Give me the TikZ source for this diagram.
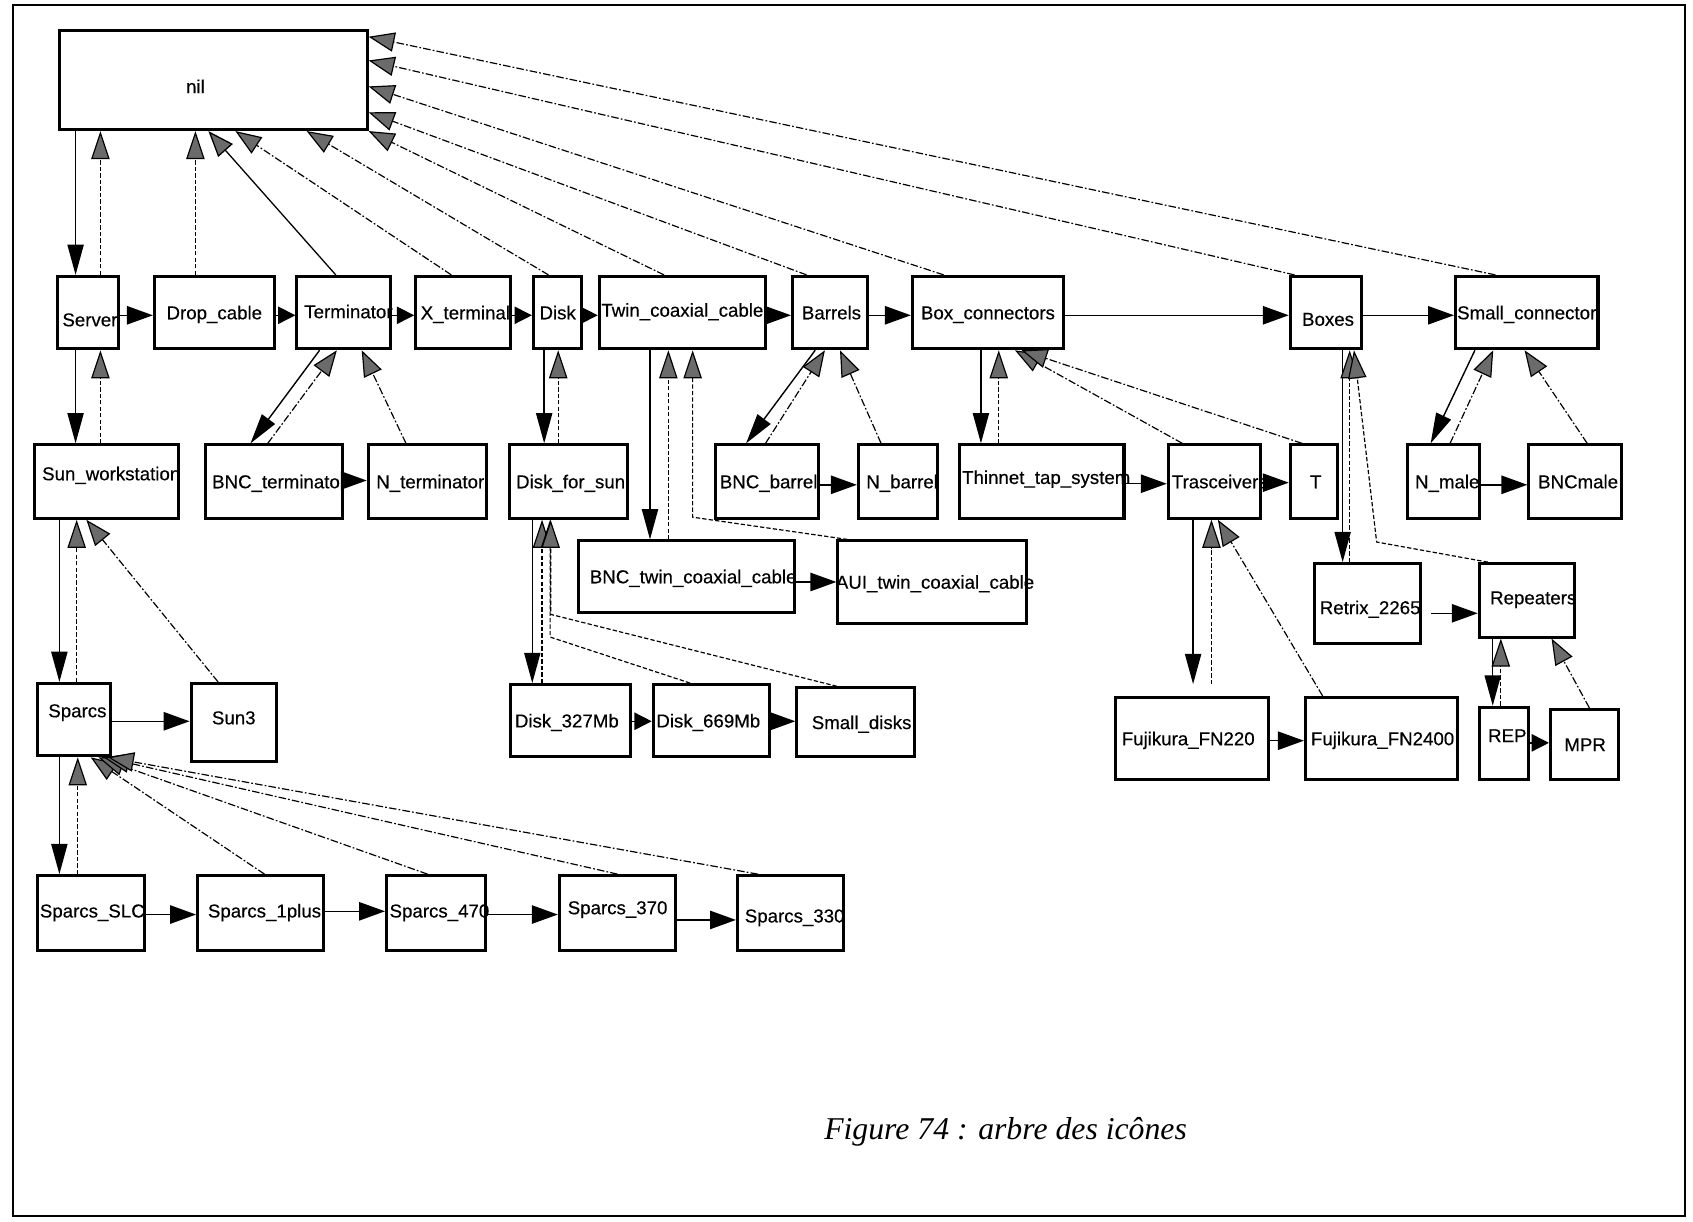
\documentclass[tikz,border=0pt]{standalone}
\usepackage{fontspec}
\setmainfont{Liberation Sans}[FakeBold=0.4]
\newfontfamily\capfont{Liberation Serif}
\usetikzlibrary{arrows.meta}
\newcommand\lbl[3]{\makebox[0pt]{\kern#1\raisebox{#2}{#3}\kern-#1}}
\begin{document}
\begin{tikzpicture}[x=0.5pt, y=-0.5pt,
  box/.style={draw, line width=1.4pt, inner sep=0pt, text height=6.2pt, text depth=0pt,
    font=\fontsize{8.65}{10}\selectfont},
  sz/.style 2 args={minimum width=#1*0.5pt, minimum height=#2*0.5pt},
  kid/.style={line width=0.65pt, -{Triangle[length=14pt,width=7.5pt]}},
  sib/.style={line width=0.65pt, -{Triangle[length=12pt,width=8.5pt]}},
  sibsm/.style={line width=0.65pt, -{Triangle[length=8pt,width=8pt]}},
  up/.style={line width=0.55pt, dash pattern=on 2pt off 1pt,
    -{Triangle[length=13pt,width=8.5pt,fill=black!58]}},
  updd/.style={line width=0.55pt, dash pattern=on 3.5pt off 1pt on 0.8pt off 1pt,
    -{Triangle[length=12pt,width=9pt,fill=black!58]}},
  upsolid/.style={line width=0.6pt, -{Triangle[length=12pt,width=9pt,fill=black!58]}},
]
\useasboundingbox (0,0) rectangle (1568,1131);
\draw[line width=0.9pt] (12,5) rectangle (1561,1126);

% ---- nodes ----
\node[box, sz={285}{92}] (nil) at (197.5,74) {\lbl{-8.25pt}{-3pt}{nil}};
% row 1
\node[box, sz={57}{67}]  (server)     at (81.5,289.5)  {\lbl{0.9pt}{-3.25pt}{Server}};
\node[box, sz={111}{67}] (dropcable)  at (198.5,289.5) {\lbl{0pt}{0pt}{Drop\_cable}};
\node[box, sz={87}{67}]  (terminator) at (318.5,289.5) {\lbl{2.1pt}{0.5pt}{Terminator}};
\node[box, sz={88}{67}]  (xterminal)  at (429,289.5)   {\lbl{1pt}{0pt}{X\_terminal}};
\node[box, sz={45}{67}]  (disk)       at (516.5,289.5) {\lbl{0pt}{0pt}{Disk}};
\node[box, sz={154}{67}] (twin)       at (632,289.5)   {\lbl{0pt}{1.2pt}{Twin\_coaxial\_cable}};
\node[box, sz={69}{67}]  (barrels)    at (768.5,289.5) {\lbl{0.8pt}{0pt}{Barrels}};
\node[box, sz={140}{67}] (boxconn)    at (915,289.5)   {\lbl{0pt}{0pt}{Box\_connectors}};
\node[box, sz={66}{67}]  (boxes)      at (1228,289.5)  {\lbl{1pt}{-3pt}{Boxes}};
\node[box, sz={132}{67}] (smallconn)  at (1414,289.5)  {\lbl{0pt}{0pt}{Small\_connector}};
% row 2
\node[box, sz={133}{68}] (sunws)      at (98.5,446)    {\lbl{2.25pt}{3.7pt}{Sun\_workstation}};
\node[box, sz={127}{68}] (bncterm)    at (253.5,446)   {\lbl{2.5pt}{0pt}{BNC\_terminator}};
\node[box, sz={110}{68}] (nterm)      at (396,446)     {\lbl{1.25pt}{0pt}{N\_terminator}};
\node[box, sz={109}{68}] (diskforsun) at (526.5,446)   {\lbl{1pt}{0pt}{Disk\_for\_sun}};
\node[box, sz={95}{68}]  (bncbarrel)  at (710.5,446)   {\lbl{0.7pt}{0pt}{BNC\_barrel}};
\node[box, sz={73}{68}]  (nbarrel)    at (831.5,446)   {\lbl{2pt}{0pt}{N\_barrel}};
\node[box, sz={152}{68}] (thinnet)    at (965,446)     {\lbl{2pt}{2pt}{Thinnet\_tap\_system}};
\node[box, sz={85}{68}]  (trasc)      at (1124.5,446)  {\lbl{2.6pt}{0pt}{Trasceivers}};
\node[box, sz={44}{68}]  (tnode)      at (1217,446)    {\lbl{0.8pt}{0pt}{T}};
\node[box, sz={66}{68}]  (nmale)      at (1337,446)    {\lbl{1.7pt}{0pt}{N\_male}};
\node[box, sz={86}{68}]  (bncmale)    at (1459,446)    {\lbl{1.3pt}{0pt}{BNCmale}};
% row 2.5
\node[box, sz={200}{66}] (bnctwin)    at (636,534)     {\lbl{3pt}{0pt}{BNC\_twin\_coaxial\_cable}};
\node[box, sz={175}{76}] (auitwin)    at (863.5,539)   {\lbl{1.25pt}{0pt}{AUI\_twin\_coaxial\_cable}};
\node[box, sz={99}{74}]  (retrix)     at (1266.5,559)  {\lbl{1.25pt}{-1.8pt}{Retrix\_2265}};
\node[box, sz={88}{68}]  (repeaters)  at (1414,556)    {\lbl{3pt}{1.3pt}{Repeaters}};
% row 3
\node[box, sz={67}{67}]  (sparcs)     at (68.5,666.5)  {\lbl{1.6pt}{4.2pt}{Sparcs}};
\node[box, sz={79}{72}]  (sun3)       at (216.5,669)   {\lbl{0pt}{2.2pt}{Sun3}};
\node[box, sz={111}{67}] (disk327)    at (528.5,667.5) {\lbl{-1.75pt}{0pt}{Disk\_327Mb}};
\node[box, sz={108}{67}] (disk669)    at (659,667.5)   {\lbl{-1.5pt}{0pt}{Disk\_669Mb}};
\node[box, sz={109}{64}] (smalldisks) at (792.5,669)   {\lbl{2.75pt}{0pt}{Small\_disks}};
\node[box, sz={142}{76}] (fn220)      at (1104,684)    {\lbl{-1.75pt}{0pt}{Fujikura\_FN220}};
\node[box, sz={141}{76}] (fn2400)     at (1279.5,684)  {\lbl{0.5pt}{0pt}{Fujikura\_FN2400}};
\node[box, sz={46}{67}]  (rep)        at (1393,688.5)  {\lbl{1.5pt}{3.7pt}{REP}};
\node[box, sz={63}{65}]  (mpr)        at (1467.5,689.5){\lbl{0.3pt}{0pt}{MPR}};
% row 4
\node[box, sz={99}{69}]  (sparcsslc)   at (84.5,845.5) {\lbl{0.5pt}{1pt}{Sparcs\_SLC}};
\node[box, sz={117}{69}] (sparcs1plus) at (241.5,845.5){\lbl{1.75pt}{1pt}{Sparcs\_1plus}};
\node[box, sz={92}{69}]  (sparcs470)   at (404,845.5)  {\lbl{1.5pt}{1pt}{Sparcs\_470}};
\node[box, sz={108}{69}] (sparcs370)   at (572,845.5)  {\lbl{0pt}{2.5pt}{Sparcs\_370}};
\node[box, sz={98}{69}]  (sparcs330)   at (732,845.5)  {\lbl{2pt}{-1.3pt}{Sparcs\_330}};

\node[anchor=base west, inner sep=0pt, font=\capfont\itshape\fontsize{14.7}{17}\selectfont]
  (caption) at (763,1055) {Figure 74 : arbre des icônes};

% ---- connectors: nil ----
\draw[kid] (nil.south -| 70,0) -- (server.north -| 70,0);
\draw[up] (server.north -| 93,0) -- (nil.south -| 93,0);
\draw[up] (dropcable.north -| 181,0) -- (nil.south -| 181,0);
\draw[upsolid] (terminator.north -| 311,0) -- (nil.south -| 193,0);
\draw[updd] (xterminal.north -| 418,0) -- (nil.south -| 218,0);
\draw[updd] (disk.north -| 508,0) -- (nil.south -| 284,0);
\draw[updd] (twin.north -| 615,0) -- (nil.south east);
\draw[updd] (barrels.north -| 747,0) -- (nil.east |- 0,104);
\draw[updd] (boxconn.north -| 874,0) -- (nil.east |- 0,80);
\draw[updd] (boxes.north -| 1199,0) -- (nil.east |- 0,56);
\draw[updd] (smallconn.north -| 1385,0) -- (nil.east |- 0,34);
% row 1 siblings
\draw[sib]   (server.east |- 0,292)     -- (dropcable.west |- 0,292);
\draw[sibsm] (dropcable.east |- 0,292)  -- (terminator.west |- 0,292);
\draw[sibsm] (terminator.east |- 0,292) -- (xterminal.west |- 0,292);
\draw[sibsm] (xterminal.east |- 0,292)  -- (disk.west |- 0,292);
\draw[sibsm] (disk.east |- 0,292)       -- (twin.west |- 0,292);
\draw[sib]   (twin.east |- 0,292)       -- (barrels.west |- 0,292);
\draw[sib]   (barrels.east |- 0,292)    -- (boxconn.west |- 0,292);
\draw[sib]   (boxconn.east |- 0,292)    -- (boxes.west |- 0,292);
\draw[sib]   (boxes.east |- 0,292)      -- (smallconn.west |- 0,292);

% Server
\draw[kid] (server.south -| 70,0) -- (sunws.north -| 70,0);
\draw[up] (sunws.north -| 93,0) -- (server.south -| 93,0);
% Sun_workstation
\draw[kid] (sunws.south -| 55,0) -- (sparcs.north -| 55,0);
\draw[up] (sparcs.north -| 71,0) -- (sunws.south -| 71,0);
\draw[updd] (sun3.north -| 202,0) -- (sunws.south -| 80,0);
\draw[sib] (sparcs.east |- 0,668) -- (sun3.west |- 0,668);
% Sparcs
\draw[kid] (sparcs.south -| 55,0) -- (sparcsslc.north -| 55,0);
\draw[up] (sparcsslc.north -| 72,0) -- (sparcs.south -| 72,0);
\draw[updd] (sparcs1plus.north -| 245,0) -- (sparcs.south -| 84,0);
\draw[updd] (sparcs470.north -| 396,0) -- (sparcs.south -| 91,0);
\draw[updd] (sparcs370.north -| 572,0) -- (sparcs.south -| 96,0);
\draw[updd] (sparcs330.north -| 702,0) -- (sparcs.south -| 100,0);
\draw[sib] (sparcsslc.east |- 0,847)   -- (sparcs1plus.west |- 0,847);
\draw[sib] (sparcs1plus.east |- 0,844) -- (sparcs470.west |- 0,844);
\draw[sib] (sparcs470.east |- 0,847)   -- (sparcs370.west |- 0,847);
\draw[sib] (sparcs370.east |- 0,852)   -- (sparcs330.west |- 0,852);
% Terminator
\draw[kid] (terminator.south -| 296,0) -- (bncterm.north -| 232,0);
\draw[updd] (bncterm.north -| 248,0) -- (terminator.south -| 312,0);
\draw[updd] (nterm.north -| 376,0) -- (terminator.south -| 335,0);
\draw[sib] (bncterm.east |- 0,445) -- (nterm.west |- 0,445);
% Disk
\draw[kid] (disk.south -| 504,0) -- (diskforsun.north -| 504,0);
\draw[up] (diskforsun.north -| 517,0) -- (disk.south -| 517,0);
% Disk_for_sun
\draw[kid] (diskforsun.south -| 493,0) -- (disk327.north -| 493,0);
\draw[up] (disk327.north -| 502,0) -- (diskforsun.south -| 502,0);
\draw[up] (disk669.north -| 639,0) -- (509.5,590) -- (diskforsun.south -| 509.5,0);
\draw[up] (smalldisks.north -| 775,0) -- (510,569) -- (diskforsun.south -| 510,0);
\draw[sibsm] (disk327.east |- 0,668) -- (disk669.west |- 0,668);
\draw[sib]   (disk669.east |- 0,668) -- (smalldisks.west |- 0,668);
% Twin_coaxial_cable
\draw[kid] (twin.south -| 602,0) -- (bnctwin.north -| 602,0);
\draw[up] (bnctwin.north -| 619,0) -- (twin.south -| 619,0);
\draw[up] (auitwin.north -| 785,0) -- (641.5,479) -- (twin.south -| 641.5,0);
\draw[sib] (bnctwin.east |- 0,539) -- (auitwin.west |- 0,539);
% Barrels
\draw[kid] (barrels.south -| 755,0) -- (bncbarrel.north -| 691,0);
\draw[updd] (bncbarrel.north -| 709,0) -- (barrels.south -| 764,0);
\draw[updd] (nbarrel.north -| 816,0) -- (barrels.south -| 778,0);
\draw[sib] (bncbarrel.east |- 0,449) -- (nbarrel.west |- 0,449);
% Box_connectors
\draw[kid] (boxconn.south -| 908.5,0) -- (thinnet.north -| 908.5,0);
\draw[up] (thinnet.north -| 925,0) -- (boxconn.south -| 925,0);
\draw[updd] (trasc.north -| 1095,0) -- (boxconn.south -| 940,0);
\draw[updd] (tnode.north -| 1206,0) -- (boxconn.south -| 946,0);
\draw[sib] (thinnet.east |- 0,448) -- (trasc.west |- 0,448);
\draw[sib] (trasc.east |- 0,447) -- (tnode.west |- 0,447);
% Trasceivers
\draw[kid, shorten >=5.5pt] (trasc.south -| 1105,0) -- (fn220.north -| 1105,0);
\draw[up, shorten <=5.5pt] (fn220.north -| 1122,0) -- (trasc.south -| 1122,0);
\draw[updd] (fn2400.north -| 1225,0) -- (trasc.south -| 1128,0);
\draw[sib] (fn220.east |- 0,686) -- (fn2400.west |- 0,686);
% Boxes
\draw[kid] (boxes.south -| 1243.5,0) -- (retrix.north -| 1243.5,0);
\draw[up] (retrix.north -| 1250,0) -- (boxes.south -| 1250,0);
\draw[up] (repeaters.north -| 1378,0) -- (1275,502) -- (boxes.south -| 1254,0);
\draw[sib, shorten <=4pt] (retrix.east |- 0,568) -- (repeaters.west |- 0,568);
% Small_connector
\draw[kid] (smallconn.south -| 1366,0) -- (nmale.north -| 1325,0);
\draw[updd] (nmale.north -| 1343,0) -- (smallconn.south -| 1383,0);
\draw[updd] (bncmale.north -| 1470,0) -- (smallconn.south -| 1412,0);
\draw[sib] (nmale.east |- 0,449) -- (bncmale.west |- 0,449);
% Repeaters
\draw[kid] (repeaters.south -| 1382.5,0) -- (rep.north -| 1382.5,0);
\draw[up] (rep.north -| 1390,0) -- (repeaters.south -| 1390,0);
\draw[updd] (mpr.north -| 1472,0) -- (repeaters.south -| 1437,0);
\draw[sibsm] (rep.east |- 0,688) -- (mpr.west |- 0,688);
\end{tikzpicture}
\end{document}
